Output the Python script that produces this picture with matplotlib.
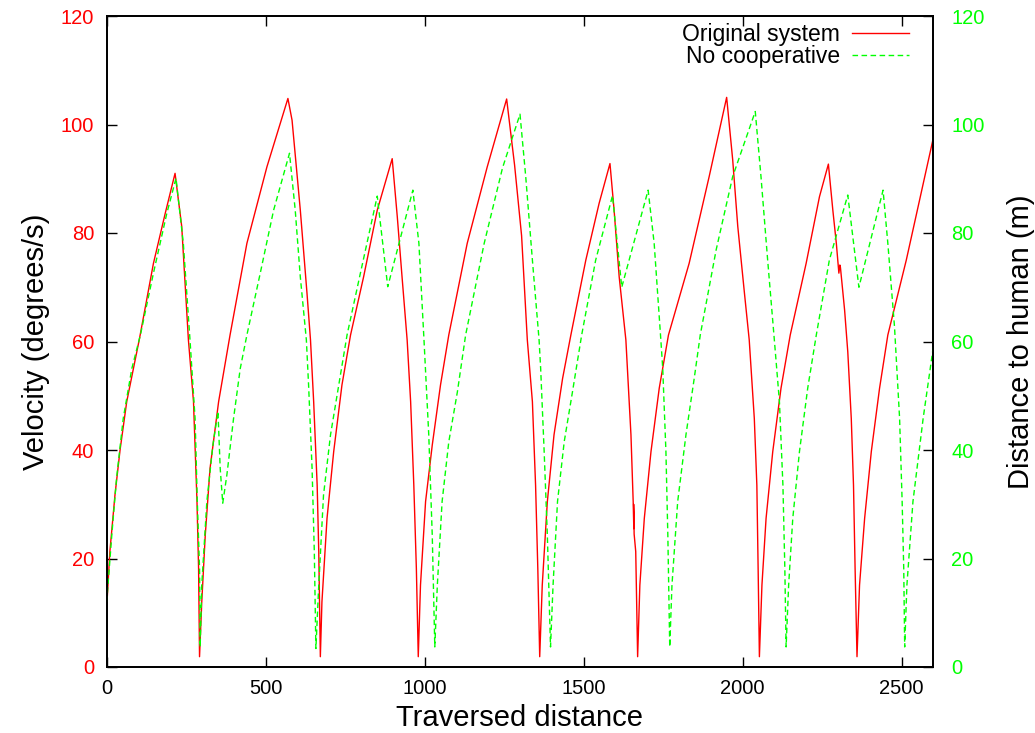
import matplotlib
matplotlib.use('Agg')
import matplotlib.pyplot as plt

plt.rcParams['font.family'] = ['Liberation Sans', 'DejaVu Sans']

# --- Data ---

# Original system (red, left axis)
orig_x = [0, 10, 26, 42, 63, 84, 103, 147, 184, 215,
          236, 257, 273, 284, 289, 292,
          299, 310, 325, 352, 388, 441, 504, 570,
          583, 609, 630, 641, 651, 662, 667, 672,
          677, 693, 714, 740, 767, 808, 851, 898,
          914, 929, 945, 956, 966, 974, 980,
          987, 1003, 1024, 1050, 1076, 1134, 1197, 1258,
          1283, 1305, 1323, 1339, 1349, 1356, 1362,
          1370, 1386, 1407, 1434, 1460, 1507, 1549, 1583,
          1596, 1612, 1633, 1649, 1656, 1658, 1657.5, 1659, 1664, 1670,
          1677, 1691, 1712, 1738, 1767, 1832, 1895, 1950,
          1969, 1985, 2006, 2021, 2037, 2045, 2049, 2053,
          2061, 2074, 2095, 2121, 2150, 2200, 2242, 2270,
          2284, 2295, 2303, 2306, 2308, 2321, 2331, 2342, 2349, 2354, 2360,
          2368, 2384, 2405, 2431, 2457, 2515, 2600]
orig_y = [11, 21.3, 31.7, 40, 48.9, 55, 60.5, 74.4, 83.6, 91,
          81.2, 60.3, 48.9, 30.5, 18.2, 1.9,
          12, 24.3, 36.6, 48.9, 61.2, 78.1, 92.2, 104.8,
          100.8, 84.2, 68.9, 60.3, 48.9, 33.5, 21.3, 1.9,
          12, 27.4, 39.7, 52, 61.2, 71.9, 84.2, 93.7,
          83, 71.9, 60.3, 48.9, 33.5, 18.2, 1.9,
          15.1, 30.5, 40.9, 52, 61.2, 78.1, 92.2, 104.7,
          92.5, 79.5, 60.3, 48.9, 33.5, 18.2, 1.9,
          15.1, 30.5, 42.8, 53.2, 61.2, 75, 85.5, 92.8,
          84.2, 71.9, 60.3, 42.8, 30.5, 25.5, 30.0, 24.5, 21.3, 1.9,
          15.1, 27.4, 39.7, 51.4, 61.2, 74.4, 90.4, 105,
          93.5, 81.2, 68.9, 60.3, 45.8, 33.5, 18.2, 1.9,
          15.1, 27.4, 39.7, 51.4, 61.2, 74.4, 86.7, 92.7,
          84.2, 78.1, 72.6, 74.1, 73.6, 65.8, 58.1, 45.8, 33.5, 18.2, 1.9,
          15.1, 27.4, 39.7, 51.4, 61.2, 75, 97.5]

# No cooperative (green, right axis)
nocoop_x = [0, 16, 31, 52, 79, 106, 147, 189, 218,
            241, 262, 278, 285, 292, 294,
            299, 315, 334, 350, 357, 365, 378, 399, 420, 441, 483, 525, 575,
            593, 609, 628, 635, 646, 653, 658,
            667, 682, 704, 730, 756, 798, 851, 884, 963, 982, 998, 1013, 1024, 1032,
            1040, 1055, 1076, 1103, 1129, 1187, 1245, 1300,
            1318, 1339, 1360, 1365, 1376, 1386, 1396,
            1404, 1418, 1439, 1465, 1494, 1538, 1591, 1620, 1703, 1722, 1743, 1749, 1759, 1765, 1771,
            1778, 1796, 1822, 1848, 1867, 1917, 1969, 2040,
            2058, 2079, 2100, 2116, 2127, 2133, 2137,
            2145, 2158, 2179, 2205, 2232, 2273, 2331, 2366, 2442, 2457, 2478, 2494, 2502, 2507, 2510,
            2517, 2536, 2568, 2600]
nocoop_y = [12, 24.3, 34.8, 45.8, 55, 61.2, 72.6, 83.6, 90.1,
            78.1, 60.3, 45.8, 30.5, 18.2, 3.7,
            15.1, 30.5, 40.9, 47.1, 36.6, 30.2, 35.4, 45.8, 55, 61.2, 72.6, 84.2, 94.7,
            84.2, 71.9, 60.3, 52, 36.6, 21.3, 3.4,
            15.1, 31.7, 42.8, 52, 61.2, 72.6, 86.8, 70.1, 87.9, 78.1, 60.3, 42.8, 24.3, 3.7,
            15.1, 30.5, 41.5, 50.7, 61.2, 78, 92, 101.9,
            90.4, 75, 60.3, 55, 39.7, 24.3, 3.7,
            15.1, 30.5, 41.5, 50.7, 61.2, 75, 86.9, 70, 87.9, 78.1, 60.3, 55, 39.7, 24.3, 3.7,
            15.1, 30.5, 42.8, 53.2, 61.2, 76.9, 90.4, 102.4,
            90.4, 75, 60.3, 48.9, 33.5, 18.2, 3.7,
            15.1, 27.4, 39.7, 51.4, 61.2, 75, 87, 70, 87.9, 78.1, 62.7, 45.8, 30.5, 18.2, 3.7,
            15.1, 30.5, 45.8, 59]

x_ticks = [0, 500, 1000, 1500, 2000, 2500]
y_ticks = [0, 20, 40, 60, 80, 100, 120]

RED = '#ff0000'
GREEN = '#00ff00'

fig = plt.figure(figsize=(10.35, 7.33), dpi=100)
ax = fig.add_axes([106.7 / 1035, 1 - 667 / 733, (933.3 - 106.7) / 1035, (667 - 16) / 733])
ax2 = ax.twinx()

l1, = ax.plot(orig_x, orig_y, color=RED, lw=1.0)
l2, = ax2.plot(nocoop_x, nocoop_y, color=GREEN, lw=1.0, dashes=(4, 2.5))

for a in (ax, ax2):
    a.set_xlim(0, 2600)
    a.set_ylim(0, 120)
    a.set_yticks(y_ticks)
    for s in a.spines.values():
        s.set_linewidth(1.3)

ax.set_xticks(x_ticks)
ax.tick_params(axis='x', direction='in', length=7, width=1, top=True, pad=9, labelsize=14.5)
ax.tick_params(axis='y', direction='in', length=7, width=1, pad=9, labelsize=14.5, labelcolor=RED)
ax2.tick_params(axis='y', direction='in', length=7, width=1, pad=13, labelsize=14.5, labelcolor=GREEN)

ax.set_xlabel('Traversed distance', fontsize=21, labelpad=4)
ax.set_ylabel('Velocity (degrees/s)', fontsize=21, labelpad=8)
ax2.set_ylabel('Distance to human (m)', fontsize=21, labelpad=16)

ax2.legend([l1, l2], ['Original system', 'No cooperative'],
           loc='upper right', bbox_to_anchor=(909 / 1035, 1 - 23 / 733),
           bbox_transform=fig.transFigure, frameon=False, markerfirst=False,
           handlelength=2.5, handletextpad=0.5, borderpad=0, borderaxespad=0,
           labelspacing=-0.05, fontsize=16.5)

fig.savefig('out.png', dpi=100, facecolor='white')
